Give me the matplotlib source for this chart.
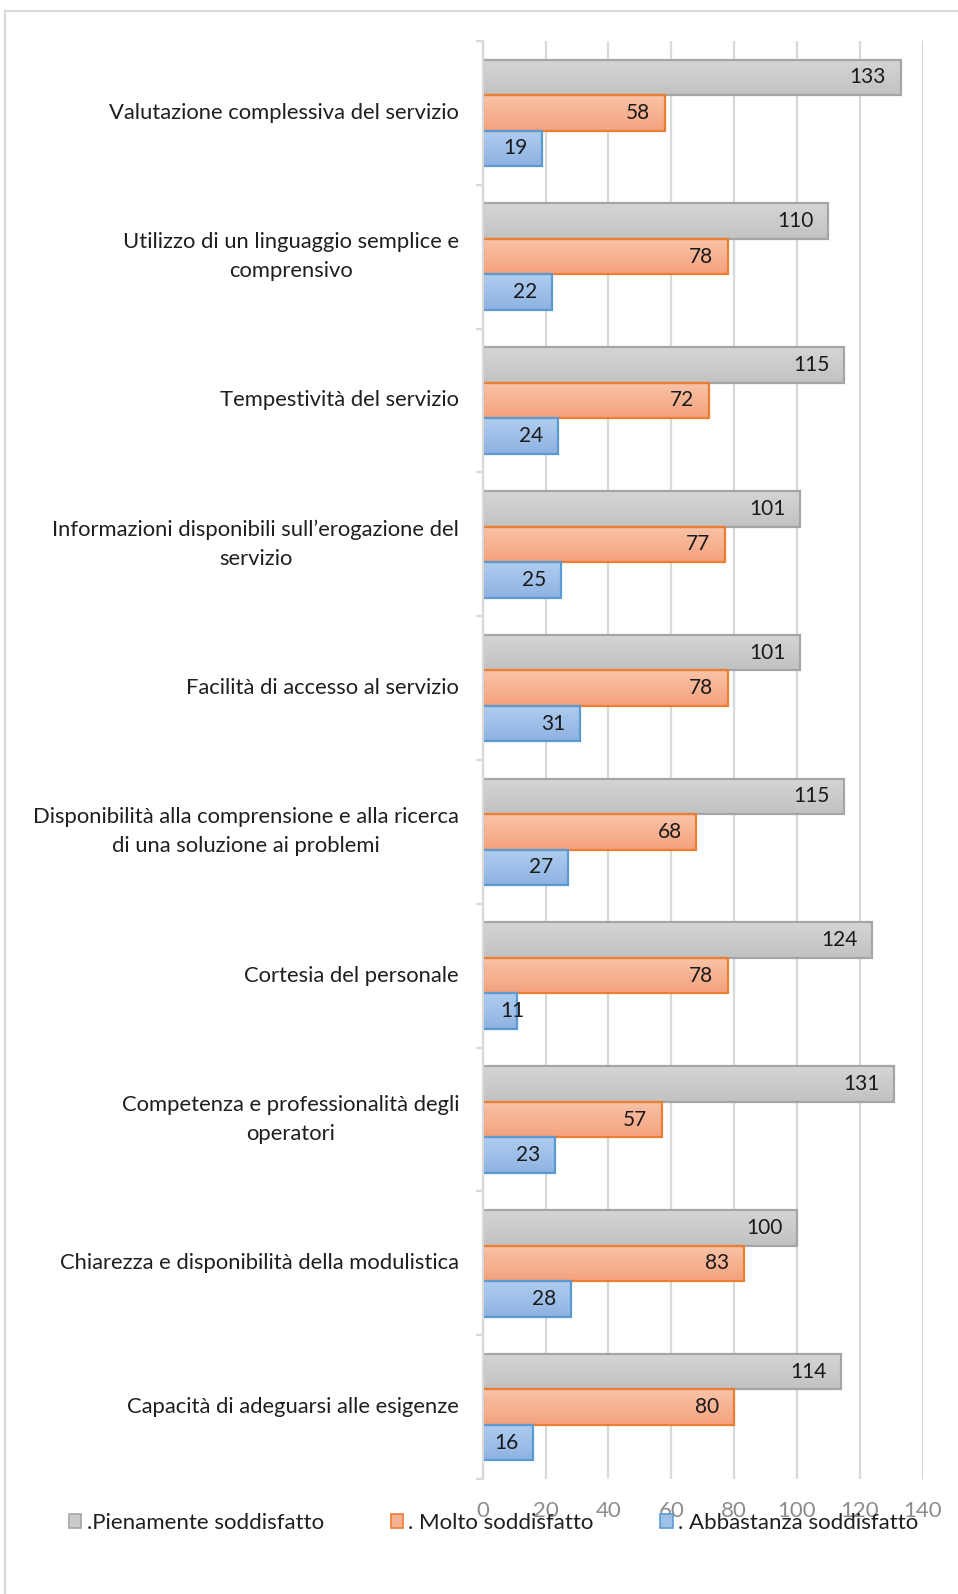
import numpy as np
import matplotlib
matplotlib.use("Agg")
import matplotlib.pyplot as plt
from matplotlib.colors import LinearSegmentedColormap
from matplotlib.lines import Line2D

plt.rcParams['font.family'] = ['Lato', 'DejaVu Sans']

categories = [
    "Valutazione complessiva del servizio",
    "Utilizzo di un linguaggio semplice e\ncomprensivo",
    "Tempestività del servizio",
    "Informazioni disponibili sull\u2019erogazione del\nservizio",
    "Facilità di accesso al servizio",
    "Disponibilità alla comprensione e alla ricerca\ndi una soluzione ai problemi",
    "Cortesia del personale",
    "Competenza e professionalità degli\noperatori",
    "Chiarezza e disponibilità della modulistica",
    "Capacità di adeguarsi alle esigenze",
]
series_names = [".Pienamente soddisfatto", ". Molto soddisfatto", ". Abbastanza soddisfatto"]
pienamente = [133, 110, 115, 101, 101, 115, 124, 131, 100, 114]
molto = [58, 78, 72, 77, 78, 68, 78, 57, 83, 80]
abbastanza = [19, 22, 24, 25, 31, 27, 11, 23, 28, 16]
x_ticks = [0, 20, 40, 60, 80, 100, 120, 140]

series = [pienamente, molto, abbastanza]
tops = ['#D5D5D5', '#F9C3A8', '#B0CDEF']
bottoms = ['#C2C2C2', '#F4A27E', '#8DB2E2']
mids = ['#CBCBCB', '#F7B293', '#9FC0E9']
edges = ['#A5A5A5', '#ED7D31', '#5B9BD5']

W, H = 958, 1594
fig = plt.figure(figsize=(W / 100, H / 100), dpi=100)
ax = fig.add_axes([482.7 / W, 1 - 1479 / H, (922.7 - 482.7) / W, (1479 - 41) / H])

n = len(categories)
y = np.arange(n)
h = 0.2475
offsets = [-h, 0, h]

containers = []
for k, vals in enumerate(series):
    bars = ax.barh(y + offsets[k], vals, height=h, color=mids[k], edgecolor='none',
                   zorder=2, label=series_names[k])
    containers.append(bars)
    cmap = LinearSegmentedColormap.from_list('g%d' % k, [tops[k], bottoms[k]])
    grad = np.linspace(0, 1, 64).reshape(-1, 1)
    for p in bars.patches:
        x0, y0, w, hh = p.get_x(), p.get_y(), p.get_width(), p.get_height()
        im = ax.imshow(grad, cmap=cmap, aspect='auto', zorder=2.1,
                       extent=(x0, x0 + w, y0 + hh, y0), origin='upper',
                       interpolation='bilinear')
        im.set_clip_path(p)
    ax.barh(y + offsets[k], vals, height=h, fill=False, edgecolor=edges[k],
            linewidth=1.6, zorder=2.2)
    for p, v in zip(bars.patches, vals):
        yc = p.get_y() + p.get_height() / 2
        if v < 14:
            ax.annotate(str(v), xy=(p.get_x(), yc), xytext=(12.5, 0),
                        textcoords='offset points', ha='left', va='center',
                        fontsize=15, color='#1a1a1a', zorder=3)
        else:
            ax.annotate(str(v), xy=(p.get_x() + p.get_width(), yc),
                        xytext=(-10.5, 0), textcoords='offset points', ha='right',
                        va='center', fontsize=15, color='#1a1a1a', zorder=3)

ax.set_xlim(0, 140)
ax.set_ylim(n - 0.5, -0.5)
ax.set_xticks(x_ticks)
ax.set_xticklabels([str(t) for t in x_ticks])
ax.tick_params(axis='x', length=0, pad=16, labelsize=16, labelcolor='#8C8C8C')
ax.xaxis.grid(True, color='#D9D9D9', linewidth=1.6, zorder=0)
ax.set_axisbelow(True)

ax.set_yticks(np.arange(n + 1) - 0.5)
ax.set_yticklabels([])
ax.set_yticks(y, minor=True)
ax.set_yticklabels(categories, minor=True, fontsize=15.8, color='#1f1f1f',
                   multialignment='center', linespacing=1.55)
for lbl in ax.get_yticklabels(minor=True):
    lbl.set_verticalalignment('center')
ax.tick_params(axis='y', which='major', length=5, width=1.6, color='#D9D9D9', direction='out')
ax.tick_params(axis='y', which='minor', length=0, pad=17)

for s in ['top', 'right', 'bottom']:
    ax.spines[s].set_visible(False)
ax.spines['left'].set_color('#D9D9D9')
ax.spines['left'].set_linewidth(1.6)

leg = fig.legend(handles=containers, labels=series_names, loc='center left',
                 bbox_to_anchor=(69 / W, 1 - 1523 / H), ncol=3, frameon=False,
                 fontsize=16, handlelength=0.55, handleheight=0.55, handletextpad=0.25,
                 columnspacing=3.0, borderaxespad=0, borderpad=0)
for t in leg.get_texts():
    t.set_color('#1f1f1f')
for hnd, e in zip(leg.legend_handles, edges):
    hnd.set_edgecolor(e)
    hnd.set_linewidth(1.2)

fig.add_artist(Line2D([4.5 / W, 4.5 / W], [0, 1 - 11 / H], transform=fig.transFigure,
                      color='#D9D9D9', linewidth=1.6))
fig.add_artist(Line2D([4.5 / W, 1], [1 - 11 / H, 1 - 11 / H], transform=fig.transFigure,
                      color='#D9D9D9', linewidth=1.6))

fig.savefig('out.png', dpi=100)
